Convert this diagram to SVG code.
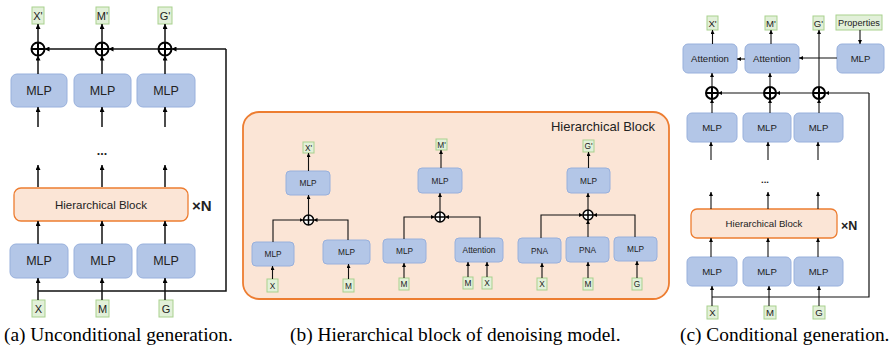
<svg xmlns="http://www.w3.org/2000/svg" width="889" height="349" viewBox="0 0 889 349">
<defs>
<marker id="ah" viewBox="0 0 6 6" refX="6" refY="3" markerWidth="5" markerHeight="5" markerUnits="userSpaceOnUse" orient="auto"><path d="M0,0 L6,3 L0,6 z" fill="#000"/></marker>
<marker id="as" viewBox="0 0 6 6" refX="6" refY="3" markerWidth="4" markerHeight="4" markerUnits="userSpaceOnUse" orient="auto"><path d="M0,0 L6,3 L0,6 z" fill="#000"/></marker>
</defs>
<style>
text{font-family:"Liberation Sans",Arial,sans-serif;fill:#222;text-anchor:middle}
.cap{font-family:"Liberation Serif","Times New Roman",serif;font-size:19.4px;text-anchor:start;fill:#000}
.b{fill:#b3c6e7;stroke:#98b0dc;stroke-width:1}
.g{fill:#e2f0d9;stroke:#a9d18e;stroke-width:1}
.o{fill:#fbe5d6;stroke:#ed7d31;stroke-width:1.3}
.l{fill:none;stroke:#111;stroke-width:1.5;marker-end:url(#ah)}
.ln{fill:none;stroke:#111;stroke-width:1.5}
.ls{fill:none;stroke:#111;stroke-width:1.1;marker-end:url(#as)}
.p{fill:#fff;stroke:#000;stroke-width:2}
.ps{fill:#fff;stroke:#000;stroke-width:1.5}
.t12{font-size:12.5px}
.t11{font-size:11px}
.t8{font-size:8.3px}
.t10{font-size:9.6px}
.xn{font-weight:bold;text-anchor:start}
.dots{font-weight:bold}
</style>

<!-- ===== Panel (a) ===== -->
<g id="a-out-x"><rect class="g" x="32" y="7" width="12" height="17"/><text class="t11" x="38" y="19.5">X'</text></g>
<g id="a-out-m"><rect class="g" x="96" y="7" width="13" height="17"/><text class="t11" x="102.5" y="19.5">M'</text></g>
<g id="a-out-g"><rect class="g" x="158" y="7" width="14" height="17"/><text class="t11" x="165" y="19.5">G'</text></g>
<g id="a-plus1"><circle class="p" cx="38" cy="49" r="6.5"/><path class="p" d="M31.5,49 H44.5 M38,42.5 V55.5"/></g>
<g id="a-plus2"><circle class="p" cx="102" cy="49" r="6.5"/><path class="p" d="M95.5,49 H108.5 M102,42.5 V55.5"/></g>
<g id="a-plus3"><circle class="p" cx="165" cy="49" r="6.5"/><path class="p" d="M158.5,49 H171.5 M165,42.5 V55.5"/></g>
<g id="a-mlp-top1"><rect class="b" x="11" y="74" width="56" height="33" rx="6"/><text class="t12" x="39" y="95">MLP</text></g>
<g id="a-mlp-top2"><rect class="b" x="74" y="74" width="57" height="33" rx="6"/><text class="t12" x="102.5" y="95">MLP</text></g>
<g id="a-mlp-top3"><rect class="b" x="137" y="74" width="58" height="33" rx="6"/><text class="t12" x="166" y="95">MLP</text></g>
<g id="a-dots"><text class="t12 dots" x="102" y="155">...</text></g>
<g id="a-block"><rect class="o" x="14" y="188" width="174" height="33" rx="7"/><text class="t11" x="101" y="209" style="font-size:11.5px">Hierarchical Block</text></g>
<g id="a-xn"><text class="xn" x="192" y="211" style="font-size:15px">×N</text></g>
<g id="a-mlp-bot1"><rect class="b" x="10" y="244" width="58" height="34" rx="6"/><text class="t12" x="39" y="265">MLP</text></g>
<g id="a-mlp-bot2"><rect class="b" x="74" y="244" width="58" height="34" rx="6"/><text class="t12" x="103" y="265">MLP</text></g>
<g id="a-mlp-bot3"><rect class="b" x="137" y="244" width="58" height="34" rx="6"/><text class="t12" x="166" y="265">MLP</text></g>
<g id="a-in-x"><rect class="g" x="32" y="300" width="13" height="17"/><text class="t11" x="38.5" y="312.5">X</text></g>
<g id="a-in-m"><rect class="g" x="96" y="300" width="13" height="17"/><text class="t11" x="102.5" y="312.5">M</text></g>
<g id="a-in-g"><rect class="g" x="159" y="300" width="14" height="17"/><text class="t11" x="166" y="312.5">G</text></g>

<g id="a-connectors">
<path class="l" d="M38,42.5 V24"/><path class="l" d="M102,42.5 V24"/><path class="l" d="M165,42.5 V24"/>
<path class="ln" d="M38,291 H226 V49"/>
<path class="l" d="M226,49 H171.5"/><path class="l" d="M158.5,49 H108.5"/><path class="l" d="M95.5,49 H44.5"/>
<path class="l" d="M38,74 V55.5"/><path class="l" d="M102,74 V55.5"/><path class="l" d="M165,74 V55.5"/>
<path class="l" d="M38,127 V107"/><path class="l" d="M102,127 V107"/><path class="l" d="M165,127 V107"/>
<path class="l" d="M38,187 V165"/><path class="l" d="M102,187 V165"/><path class="l" d="M165,187 V165"/>
<path class="l" d="M38,244 V221"/><path class="l" d="M102,244 V221"/><path class="l" d="M165,244 V221"/>
<path class="l" d="M38,300 V278"/><path class="l" d="M102,300 V278"/><path class="l" d="M165,300 V278"/>
</g>
<text class="cap" x="4" y="341">(a) Unconditional generation.</text>

<!-- ===== Panel (b) ===== -->
<g id="b-panel"><rect x="243" y="112" width="426" height="187" rx="16" fill="#fbe5d6" stroke="#ed7d31" stroke-width="1.8"/><text x="655" y="131" style="font-size:13px;text-anchor:end">Hierarchical Block</text></g>

<g id="b1-out"><rect class="g" x="303" y="142" width="11" height="11"/><text class="t8" x="308.5" y="150.5">X'</text></g>
<g id="b1-mlp"><rect class="b" x="286" y="171" width="44" height="24" rx="4"/><text class="t8" x="308" y="186">MLP</text></g>
<g id="b1-plus"><circle class="ps" cx="308.5" cy="220" r="5"/><path class="ps" d="M303.5,220 H313.5 M308.5,215 V225"/></g>
<g id="b1-mlpl"><rect class="b" x="252" y="242" width="42" height="24" rx="4"/><text class="t8" x="273" y="257">MLP</text></g>
<g id="b1-mlpr"><rect class="b" x="323" y="240" width="47" height="24" rx="4"/><text class="t8" x="346.5" y="255">MLP</text></g>
<g id="b1-x"><rect class="g" x="267" y="279" width="11" height="13"/><text class="t8" x="272.5" y="288.5">X</text></g>
<g id="b1-m"><rect class="g" x="343" y="279" width="11" height="13"/><text class="t8" x="348.5" y="288.5">M</text></g>

<g id="b2-out"><rect class="g" x="436" y="139" width="11" height="11"/><text class="t8" x="441.5" y="147.5">M'</text></g>
<g id="b2-mlp"><rect class="b" x="418" y="168" width="44" height="25" rx="4"/><text class="t8" x="440" y="183.5">MLP</text></g>
<g id="b2-plus"><circle class="ps" cx="440" cy="217" r="5"/><path class="ps" d="M435,217 H445 M440,212 V222"/></g>
<g id="b2-mlpl"><rect class="b" x="383" y="239" width="43" height="24" rx="4"/><text class="t8" x="404.5" y="254">MLP</text></g>
<g id="b2-att"><rect class="b" x="455" y="238" width="48" height="24" rx="4"/><text class="t8" x="479" y="253">Attention</text></g>
<g id="b2-m"><rect class="g" x="399" y="278" width="10" height="12"/><text class="t8" x="404" y="287">M</text></g>
<g id="b2-m2"><rect class="g" x="463" y="277" width="10" height="12"/><text class="t8" x="468" y="286">M</text></g>
<g id="b2-x"><rect class="g" x="482" y="277" width="10" height="12"/><text class="t8" x="487" y="286">X</text></g>

<g id="b3-out"><rect class="g" x="583" y="140" width="11" height="12"/><text class="t8" x="588.5" y="149">G'</text></g>
<g id="b3-mlp"><rect class="b" x="567" y="168" width="43" height="25" rx="4"/><text class="t8" x="588.5" y="183.5">MLP</text></g>
<g id="b3-plus"><circle class="ps" cx="588" cy="215" r="5"/><path class="ps" d="M583,215 H593 M588,210 V220"/></g>
<g id="b3-pna1"><rect class="b" x="518" y="238" width="43" height="25" rx="4"/><text class="t8" x="539.5" y="253.5">PNA</text></g>
<g id="b3-pna2"><rect class="b" x="566" y="237" width="43" height="25" rx="4"/><text class="t8" x="587.5" y="252.5">PNA</text></g>
<g id="b3-mlpr"><rect class="b" x="614" y="237" width="43" height="24" rx="4"/><text class="t8" x="635.5" y="252">MLP</text></g>
<g id="b3-x"><rect class="g" x="537" y="278" width="10" height="12"/><text class="t8" x="542" y="287">X</text></g>
<g id="b3-m"><rect class="g" x="583" y="278" width="10" height="12"/><text class="t8" x="588" y="287">M</text></g>
<g id="b3-g"><rect class="g" x="632" y="278" width="10" height="12"/><text class="t8" x="637" y="287">G</text></g>

<g id="b-connectors">
<path class="ls" d="M308.5,171 V153"/><path class="ls" d="M308.5,215 V195"/>
<path class="ls" d="M273,242 V220 H303.5"/><path class="ls" d="M348,240 V220 H313.5"/>
<path class="ls" d="M272.5,279 V266"/><path class="ls" d="M348.5,279 V264"/>
<path class="ls" d="M441,168 V150"/><path class="ls" d="M440,212 V193"/>
<path class="ls" d="M404,239 V217 H435"/><path class="ls" d="M480,238 V217 H445"/>
<path class="ls" d="M404,278 V263"/><path class="ls" d="M468,277 V262"/><path class="ls" d="M487,277 V262"/>
<path class="ls" d="M588.5,168 V152"/><path class="ls" d="M588,210 V193"/>
<path class="ls" d="M541,238 V215 H583"/><path class="ls" d="M635,237 V215 H593"/>
<path class="ls" d="M588,237 V220"/>
<path class="ls" d="M542,278 V263"/><path class="ls" d="M588,278 V262"/><path class="ls" d="M637,278 V261"/>
</g>
<text class="cap" x="290" y="341">(b) Hierarchical block of denoising model.</text>

<!-- ===== Panel (c) ===== -->
<g id="c-out-x"><rect class="g" x="707" y="16" width="11" height="14"/><text class="t10" x="712.5" y="26.5">X'</text></g>
<g id="c-out-m"><rect class="g" x="765" y="16" width="12" height="14"/><text class="t10" x="771" y="26.5">M'</text></g>
<g id="c-out-g"><rect class="g" x="813" y="16" width="11" height="14"/><text class="t10" x="818.5" y="26.5">G'</text></g>
<g id="c-props"><rect class="g" x="836" y="15" width="46" height="15"/><text x="859" y="26" style="font-size:9.2px">Properties</text></g>
<g id="c-att1"><rect class="b" x="683" y="44" width="54" height="29" rx="5"/><text class="t10" x="710" y="62">Attention</text></g>
<g id="c-att2"><rect class="b" x="745" y="44" width="54" height="29" rx="5"/><text class="t10" x="772" y="62">Attention</text></g>
<g id="c-mlp-prop"><rect class="b" x="837" y="44" width="47" height="29" rx="5"/><text class="t10" x="860.5" y="62">MLP</text></g>
<g id="c-plus1"><circle class="p" cx="712" cy="93" r="6"/><path class="p" d="M706,93 H718 M712,87 V99"/></g>
<g id="c-plus2"><circle class="p" cx="770" cy="93" r="6"/><path class="p" d="M764,93 H776 M770,87 V99"/></g>
<g id="c-plus3"><circle class="p" cx="819" cy="93" r="6"/><path class="p" d="M813,93 H825 M819,87 V99"/></g>
<g id="c-mlp-top1"><rect class="b" x="687" y="113" width="50" height="29" rx="5"/><text class="t10" x="712" y="131">MLP</text></g>
<g id="c-mlp-top2"><rect class="b" x="743" y="113" width="48" height="29" rx="5"/><text class="t10" x="767" y="131">MLP</text></g>
<g id="c-mlp-top3"><rect class="b" x="794" y="113" width="49" height="29" rx="5"/><text class="t10" x="818.5" y="131">MLP</text></g>
<g id="c-dots"><text class="t10 dots" x="765" y="183">...</text></g>
<g id="c-block"><rect class="o" x="691" y="209" width="146" height="29" rx="6"/><text class="t10" x="764" y="227">Hierarchical Block</text></g>
<g id="c-xn"><text class="xn" x="841" y="230" style="font-size:12.5px">×N</text></g>
<g id="c-mlp-bot1"><rect class="b" x="687" y="257" width="50" height="29" rx="5"/><text class="t10" x="712" y="275">MLP</text></g>
<g id="c-mlp-bot2"><rect class="b" x="743" y="257" width="48" height="29" rx="5"/><text class="t10" x="767" y="275">MLP</text></g>
<g id="c-mlp-bot3"><rect class="b" x="794" y="257" width="49" height="29" rx="5"/><text class="t10" x="818.5" y="275">MLP</text></g>
<g id="c-in-x"><rect class="g" x="707" y="306" width="11" height="13"/><text class="t10" x="712.5" y="316">X</text></g>
<g id="c-in-m"><rect class="g" x="764" y="306" width="12" height="13"/><text class="t10" x="770" y="316">M</text></g>
<g id="c-in-g"><rect class="g" x="813" y="306" width="12" height="13"/><text class="t10" x="819" y="316">G</text></g>

<g id="c-connectors">
<path class="ls" d="M712.5,44 V30"/><path class="ls" d="M771,44 V30"/>
<path class="ls" d="M819,87 V30"/>
<path class="ls" d="M860,30 V44"/>
<path class="ls" d="M837,58 H799"/>
<path class="ls" d="M745,59 H737"/>
<path class="ls" d="M712,87 V73"/><path class="ls" d="M770,87 V73"/>
<path class="ln" style="stroke-width:1.2" d="M712,297 H869 V93"/>
<path class="ls" d="M869,93 H825"/><path class="ls" d="M813,93 H776"/><path class="ls" d="M764,93 H718"/>
<path class="ls" d="M712,113 V99"/><path class="ls" d="M770,113 V99"/><path class="ls" d="M819,113 V99"/>
<path class="ls" d="M711,160 V142"/><path class="ls" d="M768,160 V142"/><path class="ls" d="M818,160 V142"/>
<path class="ls" d="M711,209 V192"/><path class="ls" d="M768,209 V192"/><path class="ls" d="M818,209 V192"/>
<path class="ls" d="M711,257 V238"/><path class="ls" d="M768,257 V238"/><path class="ls" d="M818,257 V238"/>
<path class="ls" d="M712,306 V286"/><path class="ls" d="M769,306 V286"/><path class="ls" d="M819,306 V286"/>
</g>
<text class="cap" x="680" y="341">(c) Conditional generation.</text>
</svg>
